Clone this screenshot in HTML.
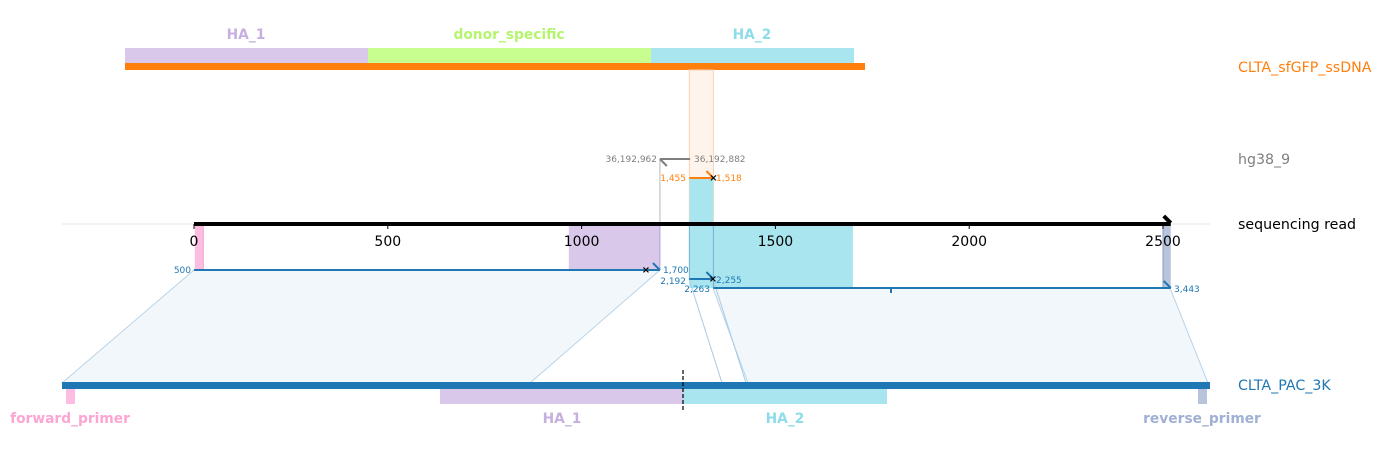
<!DOCTYPE html>
<html><head><meta charset="utf-8"><style>
html,body{margin:0;padding:0;background:#fff;width:1381px;height:453px;overflow:hidden}
svg{display:block;font-family:"DejaVu Sans","Liberation Sans",sans-serif}
.lab{font-weight:bold;font-size:13.8px}
</style></head><body>
<svg id="chart" width="1381" height="453" viewBox="0 0 1381 453">
<g id="g"></g>
</svg>
<script>
// read axis ticks (sequencing read coordinates)
const tickValues = [0, 500, 1000, 1500, 2000, 2500];
const tickLabels = ["0", "500", "1000", "1500", "2000", "2500"];
const readLength = 2520;
// read-coordinate features (name, start, end)
const readFeatureNames = ["forward_primer_hit", "HA_1_hit", "HA_2_hit", "reverse_primer_hit"];
const readFeatureStart = [2, 967, 1278, 2500];
const readFeatureEnd = [24, 1202, 1700, 2520];
// alignments on read (start,end) and reference labels
const alignReadStart = [0, 1278, 1340];
const alignReadEnd = [1202, 1340, 2520];
const alignRefStartLabel = ["500", "2,192", "2,263"];
const alignRefEndLabel = ["1,700", "2,255", "3,443"];

const X = v => 194 + v * (969 / 2500);
const NS = "http://www.w3.org/2000/svg";
const g = document.getElementById("g");
function el(tag, attrs, parent) {
  const e = document.createElementNS(NS, tag);
  for (const k in attrs) e.setAttribute(k, attrs[k]);
  (parent || g).appendChild(e);
  return e;
}
function txt(s, attrs) { const e = el("text", attrs); e.textContent = s; return e; }

let e;
e = el("rect", {x:125,y:48,width:243,height:16,fill:"#d9c8ea"});


e = el("rect", {x:368,y:48,width:283,height:16,fill:"#c8fe8f"});


e = el("rect", {x:651,y:48,width:203,height:16,fill:"#a9e5ee"});


e = el("rect", {x:125,y:63,width:740,height:7,fill:"#ff7f0e"});


txt("HA_1",{x:246,y:39,"text-anchor":"middle",class:"lab",fill:"#c5b0e0"});
txt("donor_specific",{x:509,y:39,"text-anchor":"middle",class:"lab",fill:"#b5f56e"});
txt("HA_2",{x:752,y:39,"text-anchor":"middle",class:"lab",fill:"#8edbe9"});

el("rect",{x:X(1278),y:70,width:X(1340)-X(1278),height:154,fill:"#fff4ec",stroke:"#fbd2b2","stroke-width":1});
el("rect",{x:X(1278),y:178,width:X(1340)-X(1278),height:46,fill:"#a9e5ee"});
el("line",{x1:X(1202),y1:159,x2:X(1202),y2:224,stroke:"#d0d0d0","stroke-width":1.5});
el("line",{x1:X(1202),y1:159,x2:X(1280),y2:159,stroke:"#7f7f7f","stroke-width":2});
el("line",{x1:X(1202),y1:159,x2:X(1202)+7,y2:166,stroke:"#7f7f7f","stroke-width":2});
txt("36,192,962",{x:657,y:162,"text-anchor":"end","font-size":9,fill:"#7f7f7f"});
txt("36,192,882",{x:694,y:162,"font-size":9,fill:"#7f7f7f"});
el("line",{x1:X(1278),y1:178,x2:X(1340),y2:178,stroke:"#ff7f0e","stroke-width":2});
el("line",{x1:X(1340),y1:178,x2:X(1340)-7,y2:171,stroke:"#ff7f0e","stroke-width":2});
txt("×",{x:X(1340),y:181,"text-anchor":"middle","font-size":10,"font-weight":"bold",fill:"#000"});
txt("1,455",{x:686,y:181,"text-anchor":"end","font-size":9,fill:"#ff7f0e"});
txt("1,518",{x:716,y:181,"font-size":9,fill:"#ff7f0e"});

const rfColors = ["#fcbde0","#d9c8ea","#a9e5ee","#b8c4dc"];
const rfBottom = [270,270,288,288];
readFeatureNames.forEach((n,i)=>{
  const r = el("rect",{x:X(readFeatureStart[i]),y:224,width:X(readFeatureEnd[i])-X(readFeatureStart[i]),height:rfBottom[i]-224,fill:rfColors[i]});
  
  
});
el("line",{x1:X(readFeatureEnd[0]),y1:224,x2:X(readFeatureEnd[0]),y2:270,stroke:"#f79fcf"});
el("line",{x1:X(readFeatureEnd[1]),y1:224,x2:X(readFeatureEnd[1]),y2:270,stroke:"#9ea8dc"});
el("line",{x1:X(2500),y1:224,x2:X(2500),y2:288,stroke:"#8a9bc4"});

el("polygon",{points:"194,270 660,270 530,383 62,383",fill:"#f1f7fa",stroke:"#b8d3e8","stroke-width":1});
el("polygon",{points:"713,288 1170,288 1208,383 748,383",fill:"#f1f7fa",stroke:"#b8d3e8","stroke-width":1});
el("line",{x1:689,y1:279,x2:722,y2:383,stroke:"#a9cbe4"});
el("line",{x1:713,y1:279,x2:746,y2:383,stroke:"#a9cbe4"});
el("line",{x1:X(1278),y1:224,x2:X(1278),y2:279,stroke:"#6fb0d8","stroke-width":1});
el("line",{x1:X(1340),y1:224,x2:X(1340),y2:288,stroke:"#6fb0d8","stroke-width":1});

const alY = [270,279,288];
alignReadStart.forEach((s,i)=>{
  const l = el("line",{x1:X(s),y1:alY[i],x2:X(alignReadEnd[i]),y2:alY[i],stroke:"#1f77b4","stroke-width":2});
  
  
  el("line",{x1:X(alignReadEnd[i]),y1:alY[i],x2:X(alignReadEnd[i])-7,y2:alY[i]-7,stroke:"#1f77b4","stroke-width":2});
});
txt("×",{x:646,y:273,"text-anchor":"middle","font-size":10,"font-weight":"bold"});
txt("×",{x:713,y:282,"text-anchor":"middle","font-size":10,"font-weight":"bold"});
el("line",{x1:891,y1:288,x2:891,y2:293,stroke:"#1f77b4","stroke-width":2});
txt(alignRefStartLabel[0],{x:191,y:273,"text-anchor":"end","font-size":9,fill:"#1f77b4"});
txt(alignRefEndLabel[0],{x:663,y:273,"font-size":9,fill:"#1f77b4"});
txt(alignRefStartLabel[1],{x:686,y:284,"text-anchor":"end","font-size":9,fill:"#1f77b4"});
txt(alignRefEndLabel[1],{x:716,y:283,"font-size":9,fill:"#1f77b4"});
txt(alignRefStartLabel[2],{x:710,y:292,"text-anchor":"end","font-size":9,fill:"#1f77b4"});
txt(alignRefEndLabel[2],{x:1174,y:292,"font-size":9,fill:"#1f77b4"});

el("line",{x1:62,y1:224,x2:1210,y2:224,stroke:"#e6e6e6","stroke-width":1});
const ax = el("line",{x1:X(0),y1:224,x2:X(readLength),y2:224,stroke:"#000","stroke-width":4});


el("polyline",{points:`${X(readLength)-7},216 ${X(readLength)},223`,stroke:"#000","stroke-width":4,fill:"none"});
tickValues.forEach((v,i)=>{
  el("line",{x1:X(v),y1:224,x2:X(v),y2:229,stroke:"#000","stroke-width":1});
  const t = txt(tickLabels[i],{x:X(v),y:246,"text-anchor":"middle","font-size":14,fill:"#000"});
  
  
});

el("rect",{x:62,y:382,width:1148,height:7,fill:"#1f77b4"});
el("rect",{x:66,y:389,width:9,height:15,fill:"#fcbde0"});
el("rect",{x:440,y:389,width:243,height:15,fill:"#d9c8ea"});
el("rect",{x:683,y:389,width:204,height:15,fill:"#a9e5ee"});
el("rect",{x:1198,y:389,width:9,height:15,fill:"#b8c4dc"});
el("line",{x1:683,y1:370,x2:683,y2:410,stroke:"#000","stroke-width":1.2,"stroke-dasharray":"4,2"});
txt("forward_primer",{x:70,y:423,"text-anchor":"middle",class:"lab",fill:"#fca5d3"});
txt("HA_1",{x:562,y:423,"text-anchor":"middle",class:"lab",fill:"#c5b0e0"});
txt("HA_2",{x:785,y:423,"text-anchor":"middle",class:"lab",fill:"#8edbe9"});
txt("reverse_primer",{x:1202,y:423,"text-anchor":"middle",class:"lab",fill:"#a0b0d4"});

txt("CLTA_sfGFP_ssDNA",{x:1238,y:72,"font-size":14.2,fill:"#ff7f0e"});
txt("hg38_9",{x:1238,y:164,"font-size":14.2,fill:"#7f7f7f"});
txt("sequencing read",{x:1238,y:229,"font-size":14.2,fill:"#000"});
txt("CLTA_PAC_3K",{x:1238,y:390,"font-size":14.2,fill:"#1f77b4"});
</script>
</body></html>
